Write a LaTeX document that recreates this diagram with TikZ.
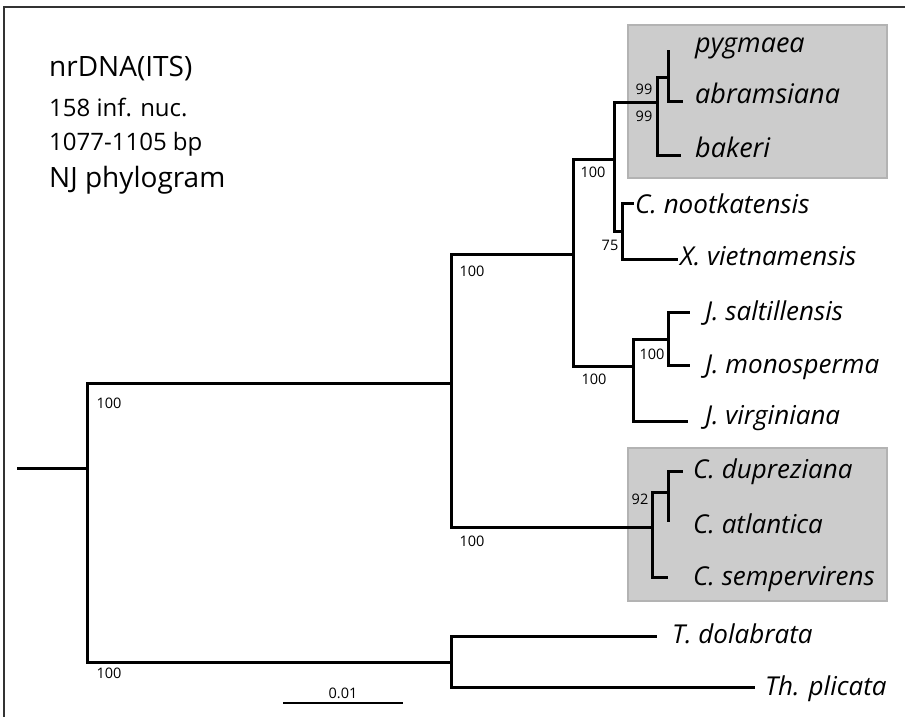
\documentclass[tikz,border=0pt]{standalone}
\usepackage{fontspec}
\setmainfont{Open Sans}
\definecolor{boxfill}{HTML}{CCCCCC}
\definecolor{boxline}{HTML}{B3B3B3}
\definecolor{frame}{HTML}{333333}
\begin{document}
\begin{tikzpicture}[x=1pt,y=-1pt,
  br/.style={line width=3pt, line join=miter, line cap=butt},
  taxon/.style={anchor=base west, inner sep=0pt, font=\fontsize{26}{28}\selectfont\itshape},
  bigtaxon/.style={taxon, font=\fontsize{27}{29}\selectfont\itshape},
  bs/.style={inner sep=0pt, font=\fontsize{14.5}{16}\selectfont},
  head/.style={anchor=base west, inner sep=0pt, font=\fontsize{28}{30}\selectfont},
  sub/.style={anchor=base west, inner sep=0pt, font=\fontsize{24}{26}\selectfont},
  gbox/.style={fill=boxfill, draw=boxline, line width=2.5pt}]
\useasboundingbox (0,0) rectangle (905,717);
% frame (top and left edges visible)
\draw[frame, line width=2pt] (4,717) -- (4,7) -- (905,7);
% grey clade boxes
\draw[gbox] (628,25) rectangle (887,178);
\draw[gbox] (628,448) rectangle (887,601);
% header
\node[head] (h1) at (49,77) {nrDNA(ITS)};
\node[sub]  (h2) at (49,116) {158 inf. nuc.};
\node[sub]  (h3) at (49,150) {1077-1105 bp};
\node[head] (h4) at (49,187) {NJ phylogram};
% internal nodes
\coordinate (r0) at (17,468);
\coordinate (n1) at (87,468);
\coordinate (nA) at (451,383);
\coordinate (nT) at (451,662);
\coordinate (nB) at (573,254);
\coordinate (nI) at (652,527);
\coordinate (nC) at (614,159);
\coordinate (nG) at (633,366);
\coordinate (nD) at (657,102);
\coordinate (nE) at (622,231);
\coordinate (nF) at (668,78);
\coordinate (nH) at (668,339);
\coordinate (nJ) at (668,492);
% leaf ends
\coordinate (lpyg) at (668,50);
\coordinate (labr) at (683,101);
\coordinate (lbak) at (681,155);
\coordinate (lnoo) at (634,203);
\coordinate (lvie) at (678,259);
\coordinate (lsal) at (690,312);
\coordinate (lmon) at (690,365);
\coordinate (lvir) at (688,421);
\coordinate (ldup) at (683,471);
\coordinate (latl) at (668,522);
\coordinate (lsem) at (668,577);
\coordinate (ldol) at (657,636);
\coordinate (lpli) at (755,687);
% branches
\draw[br] (r0) -- (n1);
\draw[br] (n1) |- (nA);
\draw[br] (n1) |- (nT);
\draw[br] (nA) |- (nB);
\draw[br] (nA) |- (nI);
\draw[br] (nB) |- (nC);
\draw[br] (nB) |- (nG);
\draw[br] (nC) |- (nD);
\draw[br] (nC) |- (nE);
\draw[br] (nD) |- (nF);
\draw[br] (nD) |- (lbak);
\draw[br] (nF) |- (lpyg);
\draw[br] (nF) |- (labr);
\draw[br] (nE) |- (lnoo);
\draw[br] (nE) |- (lvie);
\draw[br] (nG) |- (nH);
\draw[br] (nG) |- (lvir);
\draw[br] (nH) |- (lsal);
\draw[br] (nH) |- (lmon);
\draw[br] (nI) |- (nJ);
\draw[br] (nI) |- (lsem);
\draw[br] (nJ) |- (ldup);
\draw[br] (nJ) |- (latl);
\draw[br] (nT) |- (ldol);
\draw[br] (nT) |- (lpli);
% taxa
\node[bigtaxon] (tpyg) at (695,53) {pygmaea};
\node[bigtaxon] (tabr) at (695,103) {abramsiana};
\node[bigtaxon] (tbak) at (695,157) {bakeri};
\node[taxon] (tnoo) at (635,213) {C. nootkatensis};
\node[taxon] (tvie) at (680,265) {X. vietnamensis};
\node[taxon] (tsal) at (705,320) {J. saltillensis};
\node[taxon] (tmon) at (705,373) {J. monosperma};
\node[taxon] (tvir) at (705,424) {J. virginiana};
\node[taxon] (tdup) at (693,478) {C. dupreziana};
\node[taxon] (tatl) at (693,533) {C. atlantica};
\node[taxon] (tsem) at (693,585) {C. sempervirens};
\node[taxon] (tdol) at (672,643) {T. dolabrata};
\node[taxon] (tpli) at (765,695) {Th. plicata};
% support values
\node[bs] (s1) at (109,403) {100};
\node[bs] (s2) at (109,673) {100};
\node[bs] (s3) at (472,271) {100};
\node[bs] (s4) at (472,541) {100};
\node[bs] (s5) at (593,172) {100};
\node[bs] (s6) at (594,379) {100};
\node[bs] (s7) at (652,354) {100};
\node[bs] (s8) at (610,245) {75};
\node[bs] (s9) at (644,89) {99};
\node[bs] (s10) at (644,116) {99};
\node[bs] (s11) at (640,499) {92};
% scale bar
\coordinate (sb1) at (283,703);
\coordinate (sb2) at (403,703);
\draw[line width=2.4pt] (sb1) -- (sb2);
\node[bs, anchor=base] (sbl) at (343,698) {0.01};
\end{tikzpicture}
\end{document}
